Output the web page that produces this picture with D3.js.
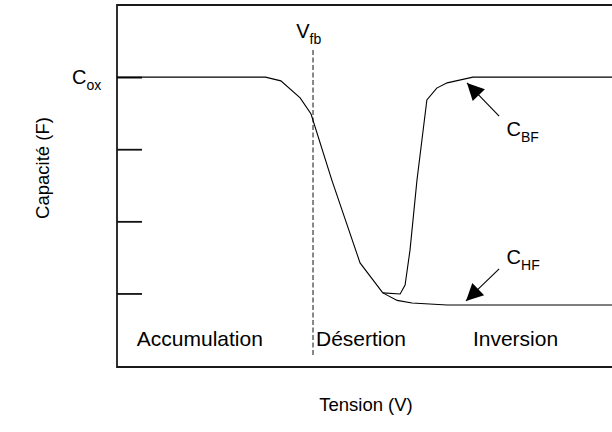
<!DOCTYPE html>
<html>
<head>
<meta charset="utf-8">
<script src="https://cdn.jsdelivr.net/npm/d3@7"></script>
<style>
  body { margin: 0; background: #fff; }
  svg { display: block; font-family: "Liberation Sans", Arial, sans-serif; }
</style>
</head>
<body>
<svg id="chart" width="612" height="432"></svg>
<script>
// C-V curve of a MOS capacitor (normalised units: tension 0..10, capacite / Cox)
var accumV = [0, 3.0, 3.31, 3.70, 3.92, 4.34, 4.91, 5.37];
var accumC = [1.0, 1.0, 0.987, 0.928, 0.872, 0.643, 0.356, 0.252];

var hfV = [5.37, 5.66, 5.96, 6.67, 10];
var hfC = [0.252, 0.226, 0.217, 0.21, 0.21];

var bfV = [5.37, 5.72, 5.82, 5.92, 6.06, 6.26, 6.46, 6.67, 7.19, 10];
var bfC = [0.252, 0.248, 0.279, 0.401, 0.643, 0.921, 0.962, 0.98, 1.0, 1.0];

var tickValues = [1.0, 0.75, 0.5, 0.25];
var vfb = 3.96;

var regions = ['Accumulation', 'Désertion', 'Inversion'];
var regionX = [0.4, 4.02, 7.19];

var svg = d3.select('#chart');
var mLeft = 117, mRight = 612, mTop = 5, mBottom = 367;

var x = d3.scaleLinear().domain([0, 10]).range([mLeft, mRight]);
var y = d3.scaleLinear().domain([-0.005, 1.25]).range([mBottom, mTop]);

function zip(a, b) { return a.map((v, i) => [v, b[i]]); }

var line = d3.line().x(d => x(d[0])).y(d => y(d[1]));

//-------------------------------------------------------------------------------
// frame: left, top, bottom (open on the right)
svg.append('path')
    .attr('d', `M${mRight},${mTop}H${mLeft}V${mBottom}H${mRight}`)
    .attr('fill', 'none')
    .attr('stroke', '#1a1a1a')
    .attr('stroke-width', 1.8);

// y ticks, no labels except C_ox
var yAxis = d3.axisRight(y).tickValues(tickValues).tickSize(25).tickFormat('');
svg.append('g')
    .attr('transform', `translate(${mLeft},0)`)
    .call(yAxis)
    .call(g => g.select('.domain').remove())
    .call(g => g.selectAll('line').attr('stroke', '#111').attr('stroke-width', 1.8));

// V_fb dashed marker
svg.append('line')
    .attr('x1', x(vfb)).attr('x2', x(vfb))
    .attr('y1', y(1.094)).attr('y2', y(0.03))
    .attr('stroke', '#555')
    .attr('stroke-width', 1.4)
    .attr('stroke-dasharray', '5,2.5');

// curves
var gCurve = svg.append('g').attr('fill', 'none').attr('stroke', '#000').attr('stroke-width', 1.1);
gCurve.append('path').attr('d', line(zip(accumV, accumC)));
gCurve.append('path').attr('d', line(zip(hfV, hfC)));
gCurve.append('path').attr('d', line(zip(bfV, bfC)));

//-------------------------------------------------------------------------------
// arrows to the curves
svg.append('defs').append('marker')
    .attr('id', 'head')
    .attr('viewBox', '0 0 10 10')
    .attr('refX', 10).attr('refY', 5)
    .attr('markerUnits', 'userSpaceOnUse')
    .attr('markerWidth', 22).attr('markerHeight', 17)
    .attr('orient', 'auto')
    .append('path').attr('d', 'M0,0L10,5L0,10Z').attr('fill', '#000');

var arrows = [
    { from: [7.72, 0.865], to: [7.07, 0.98] },
    { from: [7.72, 0.335], to: [7.05, 0.224] }
];
svg.selectAll('line.arrow')
    .data(arrows)
    .join('line')
    .attr('class', 'arrow')
    .attr('x1', d => x(d.from[0])).attr('y1', d => y(d.from[1]))
    .attr('x2', d => x(d.to[0])).attr('y2', d => y(d.to[1]))
    .attr('stroke', '#000').attr('stroke-width', 1.1)
    .attr('marker-end', 'url(#head)');

//-------------------------------------------------------------------------------
// labels with subscripts
function subLabel(px, py, main, sub, size) {
    var t = svg.append('text').attr('x', px).attr('y', py).attr('font-size', size).attr('fill', '#000');
    t.append('tspan').text(main);
    t.append('tspan').attr('font-size', size * 0.7).attr('dy', 6).text(sub);
}
subLabel(72, 84, 'C', 'ox', 20);
subLabel(x(3.62), 38, 'V', 'fb', 20);
subLabel(x(7.87), 136, 'C', 'BF', 20);
subLabel(x(7.87), 264, 'C', 'HF', 20);

svg.selectAll('text.region')
    .data(regions)
    .join('text')
    .attr('class', 'region')
    .attr('x', (d, i) => x(regionX[i]))
    .attr('y', 346)
    .attr('font-size', 21)
    .text(d => d);

// axis titles
svg.append('text')
    .attr('transform', 'translate(49,168) rotate(-90)')
    .attr('text-anchor', 'middle')
    .attr('font-size', 18.5)
    .text('Capacité (F)');

svg.append('text')
    .attr('x', 366).attr('y', 411)
    .attr('text-anchor', 'middle')
    .attr('font-size', 18.5)
    .text('Tension (V)');
</script>
</body>
</html>
